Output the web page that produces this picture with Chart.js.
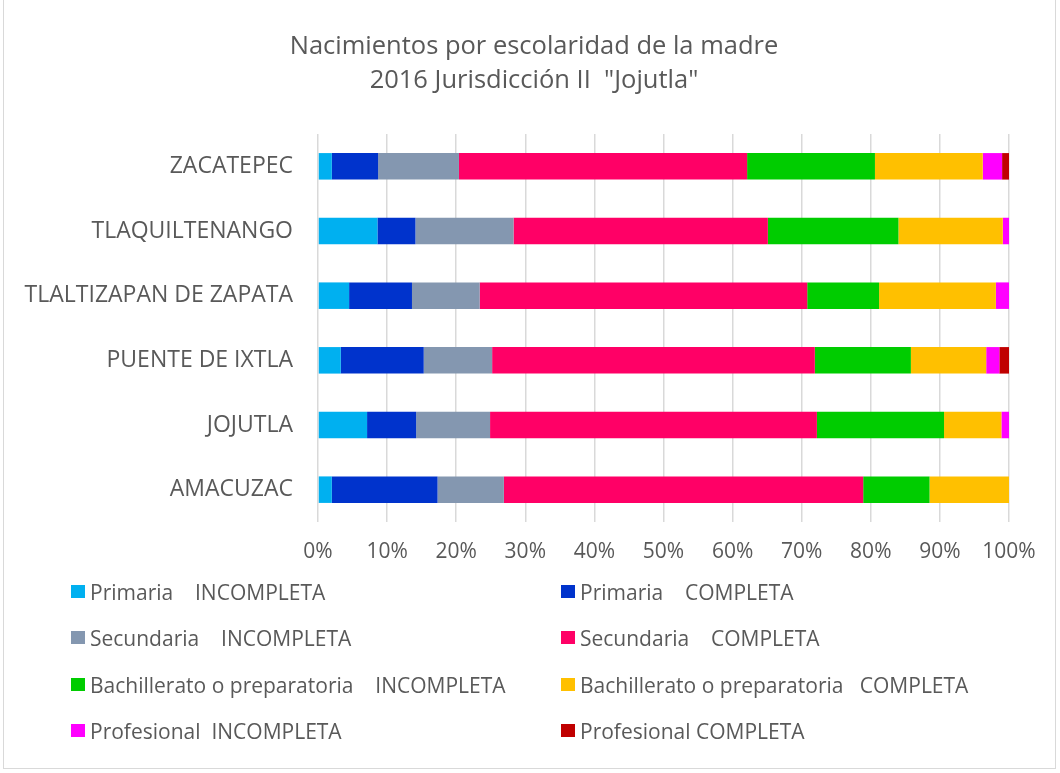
<!DOCTYPE html>
<html>
<head>
<meta charset="utf-8">
<script src="https://cdn.jsdelivr.net/npm/chart.js@4"></script>
<style>
  html, body { margin:0; padding:0; background:#fff; }
  #wrap { position:relative; width:1060px; height:773px; overflow:hidden; }
  #frame { position:absolute; left:3px; top:-2px; width:1053px; height:771px; border:1px solid #d9d9d9; box-sizing:border-box; }
  #title { position:absolute; left:0; top:27px; width:1068px; text-align:center; font-family:"Open Sans", sans-serif; font-size:25.5px; line-height:34px; color:#595959; white-space:pre; }
  canvas { position:absolute; left:0; top:0; }
  .lg { position:absolute; font-family:"Open Sans", sans-serif; font-size:21px; color:#595959; white-space:pre; line-height:24px; }
  .lg span.box { position:absolute; left:-19px; top:5px; width:14px; height:13px; }
</style>
</head>
<body>
<div id="wrap">
  <div id="frame"></div>
  <canvas id="c" width="1060" height="773"></canvas>
  <div id="title">Nacimientos por escolaridad de la madre
2016 Jurisdicción II  "Jojutla"</div>
  <div id="legend"></div>
</div>
<script>
const categories = ["ZACATEPEC", "TLAQUILTENANGO", "TLALTIZAPAN DE ZAPATA", "PUENTE DE IXTLA", "JOJUTLA", "AMACUZAC"];
const seriesNames = [
  "Primaria    INCOMPLETA", "Primaria    COMPLETA",
  "Secundaria    INCOMPLETA", "Secundaria    COMPLETA",
  "Bachillerato o preparatoria    INCOMPLETA", "Bachillerato o preparatoria   COMPLETA",
  "Profesional  INCOMPLETA", "Profesional COMPLETA"
];
const seriesColors = ["#00B0F0", "#0033CC", "#8497B0", "#FF0066", "#00CC00", "#FFC000", "#FF00FF", "#C00000"];
const primariaIncompleta     = [2.0, 8.6, 4.5, 3.3, 7.1, 2.0];
const primariaCompleta       = [6.7, 5.5, 9.1, 12.0, 7.1, 15.3];
const secundariaIncompleta   = [11.7, 14.2, 9.8, 9.9, 10.7, 9.6];
const secundariaCompleta     = [41.7, 36.8, 47.4, 46.7, 47.3, 52.0];
const bachilleratoIncompleta = [18.5, 18.9, 10.4, 13.9, 18.4, 9.6];
const bachilleratoCompleta   = [15.6, 15.1, 16.9, 10.9, 8.3, 11.5];
const profesionalIncompleta  = [2.8, 0.9, 1.9, 1.9, 1.1, 0.0];
const profesionalCompleta    = [1.0, 0.0, 0.0, 1.4, 0.0, 0.0];
const xTickLabels = ["0%", "10%", "20%", "30%", "40%", "50%", "60%", "70%", "80%", "90%", "100%"];

const seriesValues = [primariaIncompleta, primariaCompleta, secundariaIncompleta, secundariaCompleta,
  bachilleratoIncompleta, bachilleratoCompleta, profesionalIncompleta, profesionalCompleta];

const datasets = seriesNames.map((n, i) => ({
  label: n,
  data: seriesValues[i],
  backgroundColor: seriesColors[i],
  borderWidth: 0,
  barPercentage: 0.82,
  categoryPercentage: 0.5
}));

const PLOT_LEFT = 318, PLOT_RIGHT = 1009, PLOT_TOP = 134, PLOT_BOTTOM = 522;
const XAXIS_H = 44;

new Chart(document.getElementById('c'), {
  type: 'bar',
  data: { labels: categories, datasets },
  options: {
    indexAxis: 'y',
    responsive: false,
    animation: false,
    layout: { padding: { top: PLOT_TOP, left: 0, right: 1060 - PLOT_RIGHT, bottom: 773 - PLOT_BOTTOM - XAXIS_H } },
    plugins: { legend: { display: false }, title: { display: false }, tooltip: { enabled: false } },
    scales: {
      x: {
        stacked: true, min: 0, max: 100,
        ticks: {
          stepSize: 10, padding: 17, color: '#595959',
          font: { family: 'Open Sans', size: 21 },
          callback: (v, i) => xTickLabels[i]
        },
        grid: { color: '#d9d9d9', lineWidth: 1.5, drawTicks: false },
        border: { display: false },
        afterFit: s => { s.height = XAXIS_H; }
      },
      y: {
        stacked: true,
        ticks: { padding: 25, color: '#595959', font: { family: 'Open Sans', size: 23 } },
        grid: { display: false, drawTicks: false },
        border: { display: false },
        afterFit: s => { s.width = PLOT_LEFT; }
      }
    }
  }
});

const legend = document.getElementById('legend');
const colX = [90, 580];
const rowY = [580, 626, 673, 719];
seriesNames.forEach((n, i) => {
  const d = document.createElement('div');
  d.className = 'lg';
  d.style.left = colX[i % 2] + 'px';
  d.style.top = rowY[Math.floor(i / 2)] + 'px';
  const b = document.createElement('span');
  b.className = 'box';
  b.style.background = seriesColors[i];
  d.appendChild(b);
  d.appendChild(document.createTextNode(n));
  legend.appendChild(d);
});
</script>
</body>
</html>
